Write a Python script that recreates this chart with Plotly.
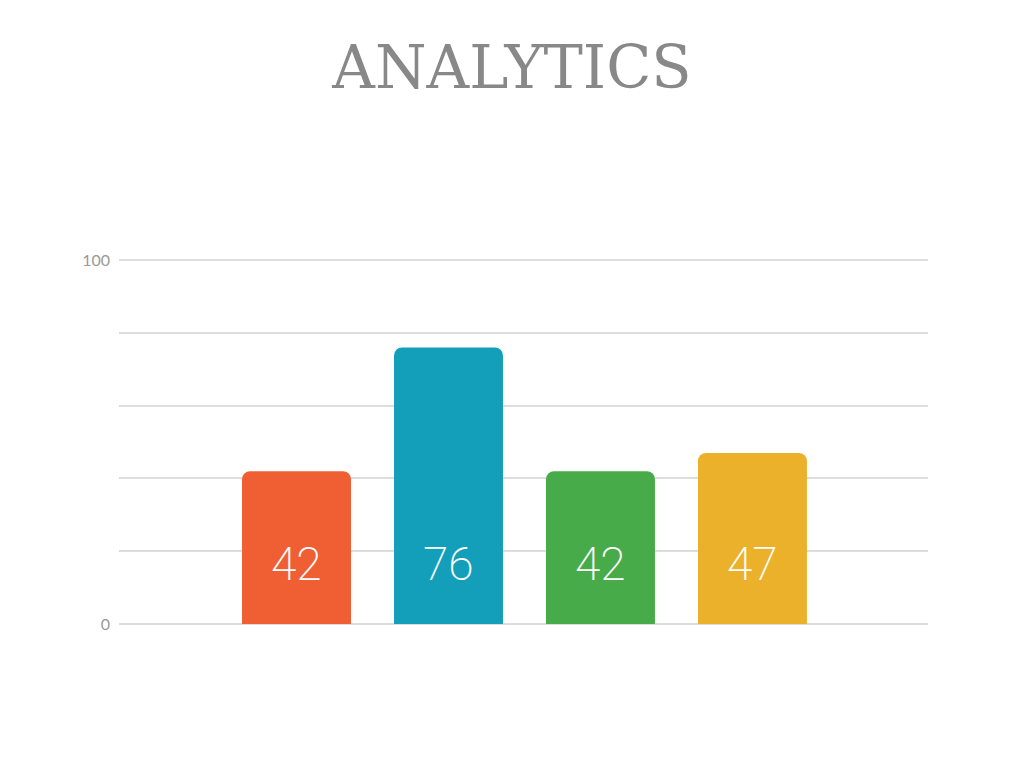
import plotly.graph_objects as go

categories = ["A", "B", "C", "D"]
values = [42, 76, 42, 47]
colors = ["#F05F33", "#139FBA", "#48AB4A", "#EBB12A"]
y_tick_vals = [0, 20, 40, 60, 80, 100]
y_tick_text = ["0", "", "", "", "", "100"]
label_level = 16.5

fig = go.Figure()
fig.add_trace(go.Bar(
    x=list(range(len(categories))),
    y=values,
    marker=dict(color=colors, line=dict(width=0)),
    width=0.717,
    hoverinfo="skip",
))

for i, v in enumerate(values):
    fig.add_annotation(
        x=i, y=label_level, text=str(v), showarrow=False,
        font=dict(family="Roboto", size=46, color="white", weight=200),
        xanchor="center", yanchor="middle",
    )

fig.update_layout(
    width=1024, height=768,
    paper_bgcolor="white", plot_bgcolor="white",
    margin=dict(l=111, r=104, t=251, b=152),
    barcornerradius=8,
    showlegend=False,
    title=dict(
        text="ANALYTICS", x=0.4922, xanchor="center", y=0.9225, yanchor="middle",
        font=dict(family="DejaVu Serif", size=59, color="#888888"),
    ),
    xaxis=dict(
        range=[-1.168, 4.155], showticklabels=False, showgrid=False,
        zeroline=False, showline=False, ticks="",
    ),
    yaxis=dict(
        range=[0, 100.3], tickvals=y_tick_vals, ticktext=y_tick_text,
        showgrid=True, gridcolor="#DDDDDD", gridwidth=1.5,
        zeroline=True, zerolinecolor="#DDDDDD", zerolinewidth=1.5,
        showline=False, ticks="",
        tickfont=dict(family="Lato", size=16, color="#999999"),
        ticklabelstandoff=8,
    ),
)

fig.write_html("out.html")
